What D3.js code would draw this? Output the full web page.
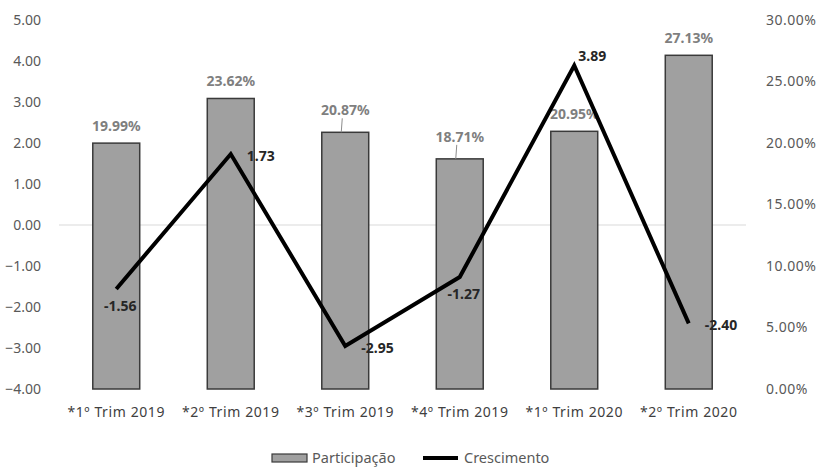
<!DOCTYPE html>
<html>
<head>
<meta charset="utf-8">
<title>Participação e Crescimento</title>
<script src="https://d3js.org/d3.v7.min.js"></script>
<style>
  body { margin: 0; background: #fff; }
  svg text { font-family: "Noto Sans", "Open Sans", sans-serif; }
</style>
</head>
<body>
<div id="chart"></div>
<script>
// data
var categories = ["*1º Trim 2019", "*2º Trim 2019", "*3º Trim 2019", "*4º Trim 2019", "*1º Trim 2020", "*2º Trim 2020"];
var participacao = [19.99, 23.62, 20.87, 18.71, 20.95, 27.13];
var crescimento = [-1.56, 1.73, -2.95, -1.27, 3.89, -2.40];
var leftTicks = [5, 4, 3, 2, 1, 0, -1, -2, -3, -4];
var rightTicks = [0, 5, 10, 15, 20, 25, 30];
var lineLabelPos = ["below", "right", "right", "below", "above", "right"];

var width = 817, height = 467;
var margin = {top: 20, left: 59, right: 71, bottom: 78};

var svg = d3.select("#chart").append("svg")
  .attr("width", width)
  .attr("height", height);

var x = d3.scaleBand()
  .domain(categories)
  .range([margin.left, width - margin.right])
  .paddingInner(0.59)
  .paddingOuter(0.295);

var yLeft = d3.scaleLinear().domain([-4, 5]).range([height - margin.bottom, margin.top]);
var yRight = d3.scaleLinear().domain([0, 30]).range([height - margin.bottom, margin.top]);

// zero gridline
svg.append("line")
  .attr("x1", margin.left).attr("x2", width - margin.right)
  .attr("y1", yLeft(0)).attr("y2", yLeft(0))
  .attr("stroke", "#d9d9d9").attr("stroke-width", 1);

// left axis
var axL = svg.append("g")
  .attr("transform", "translate(" + (margin.left - 15) + ",0)")
  .call(d3.axisLeft(yLeft).tickValues(leftTicks).tickFormat(d3.format(".2f")).tickSize(0));
axL.select(".domain").remove();
axL.selectAll("text").attr("fill", "#595959").style("font-size", "14px");

// right axis
var axR = svg.append("g")
  .attr("transform", "translate(" + (width - margin.right + 17) + ",0)")
  .call(d3.axisRight(yRight).tickValues(rightTicks).tickFormat(function (d) { return d.toFixed(2) + "%"; }).tickSize(0));
axR.select(".domain").remove();
axR.selectAll("text").attr("fill", "#595959").style("font-size", "14px").style("letter-spacing", "0.5px");

// bars
svg.selectAll("rect.bar")
  .data(participacao)
  .enter().append("rect")
  .attr("class", "bar")
  .attr("x", function (d, i) { return x(categories[i]); })
  .attr("width", x.bandwidth())
  .attr("y", function (d) { return yRight(d); })
  .attr("height", function (d) { return yRight(0) - yRight(d); })
  .attr("fill", "#a0a0a0")
  .attr("stroke", "#3a3a3a")
  .attr("stroke-width", 1.5);

// category labels
svg.selectAll("text.cat")
  .data(categories)
  .enter().append("text")
  .attr("class", "cat")
  .attr("x", function (d) { return x(d) + x.bandwidth() / 2; })
  .attr("y", yLeft(-4) + 28)
  .attr("text-anchor", "middle")
  .attr("fill", "#404040")
  .style("font-size", "14px")
  .style("letter-spacing", "0.6px")
  .text(function (d) { return d; });

// bar value labels (3rd and 4th pushed up with leader lines)
var leader = [2, 3];
participacao.forEach(function (d, i) {
  var cx = x(categories[i]) + x.bandwidth() / 2;
  var top = yRight(d);
  var lifted = leader.indexOf(i) >= 0;
  var ly = top - (lifted ? 17 : 12);
  svg.append("text")
    .attr("x", cx).attr("y", ly)
    .attr("text-anchor", "middle")
    .attr("fill", "#7f7f7f")
    .style("font-size", "14px")
    .style("font-weight", "bold")
    .text(d.toFixed(2) + "%");
  if (lifted) {
    svg.append("line")
      .attr("x1", cx - 3).attr("y1", ly + 3)
      .attr("x2", cx - 4).attr("y2", top)
      .attr("stroke", "#8c8c8c").attr("stroke-width", 1);
  }
});

// line
var line = d3.line()
  .x(function (d, i) { return x(categories[i]) + x.bandwidth() / 2; })
  .y(function (d) { return yLeft(d); });

svg.append("path")
  .datum(crescimento)
  .attr("d", line)
  .attr("fill", "none")
  .attr("stroke", "#000")
  .attr("stroke-width", 4)
  .attr("stroke-linejoin", "miter");

// line value labels
crescimento.forEach(function (d, i) {
  var px = x(categories[i]) + x.bandwidth() / 2;
  var py = yLeft(d);
  var pos = lineLabelPos[i];
  var t = svg.append("text")
    .attr("fill", "#262626")
    .style("font-size", "14px")
    .style("font-weight", "bold")
    .text(d.toFixed(2));
  if (pos === "below") {
    t.attr("x", px + 4).attr("y", py + 22).attr("text-anchor", "middle");
  } else if (pos === "above") {
    t.attr("x", px + 18).attr("y", py - 5).attr("text-anchor", "middle");
  } else {
    t.attr("x", px + 16).attr("y", py + 7).attr("text-anchor", "start");
  }
});

// legend
var lg = svg.append("g").attr("transform", "translate(272," + (height - 9) + ")");
lg.append("rect")
  .attr("x", 0).attr("y", -4).attr("width", 35).attr("height", 8)
  .attr("fill", "#a0a0a0").attr("stroke", "#3a3a3a").attr("stroke-width", 1.2);
lg.append("text").attr("x", 40).attr("y", 5)
  .attr("fill", "#595959").style("font-size", "14.5px").text("Participação");
lg.append("line")
  .attr("x1", 151).attr("x2", 186).attr("y1", 0).attr("y2", 0)
  .attr("stroke", "#000").attr("stroke-width", 4);
lg.append("text").attr("x", 192).attr("y", 5)
  .attr("fill", "#595959").style("font-size", "14.5px").text("Crescimento");
</script>
</body>
</html>
